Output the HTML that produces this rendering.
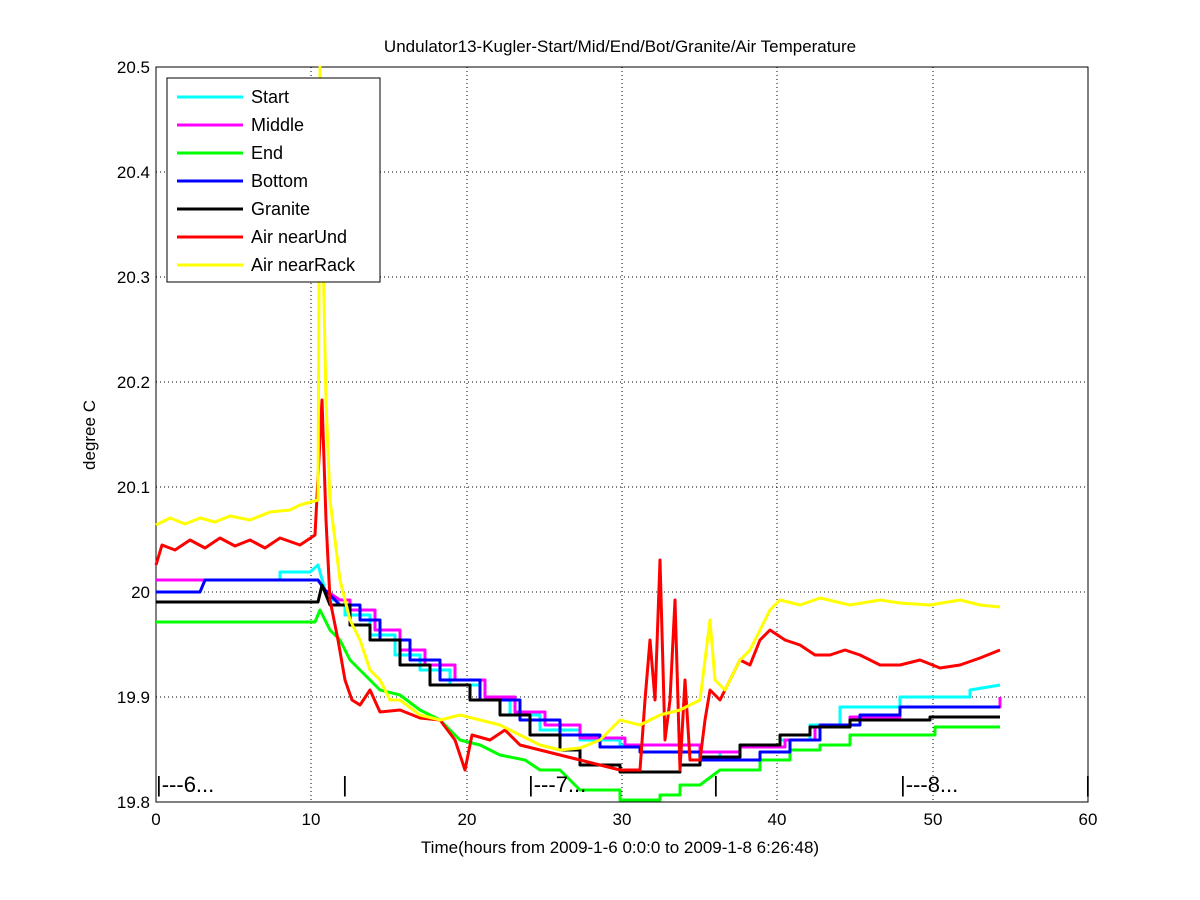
<!DOCTYPE html>
<html><head><style>body{margin:0;background:#fff}svg{display:block;font-family:"Liberation Sans",Arial,sans-serif}</style></head><body>
<svg width="1200" height="900" viewBox="0 0 1200 900">
<rect width="1200" height="900" fill="#fff"/>
<rect x="156" y="67" width="932" height="735" fill="#fff" stroke="#000" stroke-width="1"/>
<g stroke="#000" stroke-width="1" stroke-dasharray="1,3">
<line x1="311" y1="67" x2="311" y2="802"/><line x1="467" y1="67" x2="467" y2="802"/><line x1="622" y1="67" x2="622" y2="802"/><line x1="777" y1="67" x2="777" y2="802"/><line x1="933" y1="67" x2="933" y2="802"/>
<line x1="156" y1="172" x2="1088" y2="172"/><line x1="156" y1="277" x2="1088" y2="277"/><line x1="156" y1="382" x2="1088" y2="382"/><line x1="156" y1="487" x2="1088" y2="487"/><line x1="156" y1="592" x2="1088" y2="592"/><line x1="156" y1="697" x2="1088" y2="697"/>
</g>
<g font-size="17" fill="#000" text-anchor="middle">
<text x="156" y="825">0</text><text x="311" y="825">10</text><text x="467" y="825">20</text><text x="622" y="825">30</text><text x="777" y="825">40</text><text x="933" y="825">50</text><text x="1088" y="825">60</text>
</g>
<g font-size="17" fill="#000" text-anchor="end">
<text x="150" y="73">20.5</text><text x="150" y="178">20.4</text><text x="150" y="283">20.3</text><text x="150" y="388">20.2</text><text x="150" y="493">20.1</text><text x="150" y="598">20</text><text x="150" y="703">19.9</text><text x="150" y="808">19.8</text>
</g>
<text x="620" y="52" font-size="17" text-anchor="middle">Undulator13-Kugler-Start/Mid/End/Bot/Granite/Air Temperature</text>
<text x="620" y="853" font-size="17" text-anchor="middle">Time(hours from 2009-1-6 0:0:0 to 2009-1-8 6:26:48)</text>
<text transform="translate(95,435) rotate(-90)" font-size="17" text-anchor="middle">degree C</text>
<g fill="none" stroke-width="3" stroke-linejoin="round">
<polyline stroke="#00ffff" points="156,580 280,580 280,572 310,572 318,565 325,590 330,600 345,600 345,615 370,615 370,635 395,635 395,655 420,655 420,670 450,670 450,685 480,685 480,700 510,700 510,715 540,715 540,730 580,730 580,740 620,740 620,745 700,745 700,752 720,752 720,760 740,760 740,745 780,745 780,740 810,740 810,725 840,725 840,707 900,707 900,697 970,697 970,690 1000,685"/>
<polyline stroke="#ff00ff" points="156,580 318,580 325,590 340,600 350,600 350,610 375,610 375,630 400,630 400,650 425,650 425,665 455,665 455,680 485,680 485,697 515,697 515,712 545,712 545,725 580,725 580,738 625,738 625,745 700,745 700,752 740,752 740,747 785,747 785,740 815,740 815,727 850,727 850,717 900,717 900,707 1000,707 1000,697"/>
<polyline stroke="#00ff00" points="156,622 315,622 320,610 330,630 340,640 350,660 360,670 370,680 380,690 400,695 420,710 440,720 460,740 480,745 500,755 525,760 540,770 560,770 580,790 620,790 620,800 660,800 660,795 680,795 680,785 700,785 720,770 760,770 760,760 790,760 790,750 820,750 820,745 850,745 850,735 935,735 935,727 1000,727"/>
<polyline stroke="#0000ff" points="156,592 200,592 205,580 318,580 325,590 340,605 360,605 360,620 380,620 380,640 410,640 410,660 440,660 440,680 480,680 480,700 520,700 520,720 560,720 560,735 600,735 600,747 640,747 640,752 700,752 700,760 760,760 760,752 790,752 790,740 820,740 820,725 860,725 860,715 900,715 900,707 1000,707"/>
<polyline stroke="#000000" points="156,602 318,602 322,585 330,605 350,605 350,625 370,625 370,640 400,640 400,665 430,665 430,685 470,685 470,700 500,700 500,715 530,715 530,735 560,735 560,750 580,750 580,765 620,765 620,772 680,772 680,765 700,765 700,757 740,757 740,745 780,745 780,735 810,735 810,727 850,727 850,720 930,720 930,717 1000,717"/>
<polyline stroke="#ff0000" points="156,565 162,545 175,550 190,540 205,548 220,538 235,546 250,540 265,548 280,538 300,545 315,535 322,400 326,520 330,600 338,640 345,680 352,700 360,705 370,690 380,712 400,710 420,718 440,720 455,740 465,770 472,735 490,740 505,730 520,745 540,750 560,755 580,760 600,765 620,770 640,770 645,700 650,640 655,700 660,560 665,740 670,700 675,600 680,770 685,680 690,760 700,760 705,720 710,690 720,700 730,680 740,660 750,665 760,640 770,630 785,640 800,645 815,655 830,655 845,650 860,655 880,665 900,665 920,660 940,668 960,665 980,658 1000,650"/>
<polyline stroke="#ffff00" points="156,525 170,518 185,524 200,518 215,522 230,516 250,520 270,512 290,510 300,505 318,500 320,67 323,250 326,400 330,500 340,580 350,620 360,640 370,670 380,680 390,700 400,700 420,715 440,720 460,715 480,720 500,725 520,735 540,745 560,750 580,748 600,740 620,720 640,725 660,715 680,710 700,700 705,660 710,620 715,680 725,690 740,660 750,650 760,630 770,610 780,600 800,605 820,598 850,605 880,600 900,603 930,605 960,600 980,605 1000,607"/>
</g>
<g font-size="22" fill="#000">
<text x="156" y="792">|---6...</text><text x="342" y="792">|</text><text x="528" y="792">|---7...</text><text x="713" y="792">|</text><text x="900" y="792">|---8...</text><text x="1085" y="792">|</text>
</g>
<rect x="167" y="78" width="213" height="204" fill="#fff" stroke="#000"/>
<g stroke-width="3">
<line x1="177" y1="97" x2="243" y2="97" stroke="#00ffff"/>
<line x1="177" y1="125" x2="243" y2="125" stroke="#ff00ff"/>
<line x1="177" y1="153" x2="243" y2="153" stroke="#00ff00"/>
<line x1="177" y1="181" x2="243" y2="181" stroke="#0000ff"/>
<line x1="177" y1="209" x2="243" y2="209" stroke="#000000"/>
<line x1="177" y1="237" x2="243" y2="237" stroke="#ff0000"/>
<line x1="177" y1="265" x2="243" y2="265" stroke="#ffff00"/>
</g>
<g font-size="18" fill="#000">
<text x="251" y="103">Start</text><text x="251" y="131">Middle</text><text x="251" y="159">End</text><text x="251" y="187">Bottom</text><text x="251" y="215">Granite</text><text x="251" y="243">Air nearUnd</text><text x="251" y="271">Air nearRack</text>
</g>
</svg>
</body></html>
